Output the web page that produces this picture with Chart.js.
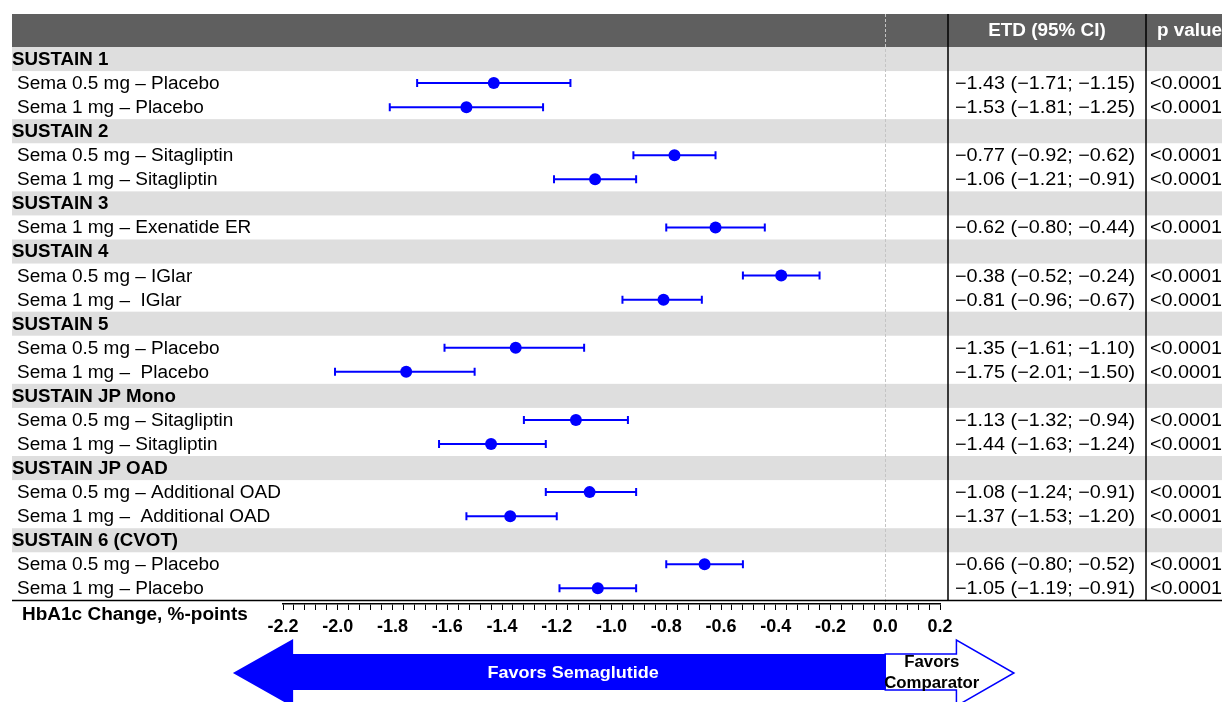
<!DOCTYPE html>
<html>
<head>
<meta charset="utf-8">
<script src="https://cdn.jsdelivr.net/npm/chart.js"></script>
<style>
  body { margin: 0; background: #fff; }
</style>
</head>
<body>
<canvas id="myChart" width="1222" height="702"></canvas>
<script>
// donnees du forest plot
/******************************************/
const groups = ['SUSTAIN 1', 'SUSTAIN 2', 'SUSTAIN 3', 'SUSTAIN 4', 'SUSTAIN 5',
  'SUSTAIN JP Mono', 'SUSTAIN JP OAD', 'SUSTAIN 6 (CVOT)'];
const comparisons = [
  'Sema 0.5 mg – Placebo', 'Sema 1 mg – Placebo',
  'Sema 0.5 mg – Sitagliptin', 'Sema 1 mg – Sitagliptin',
  'Sema 1 mg – Exenatide ER',
  'Sema 0.5 mg – IGlar', 'Sema 1 mg –  IGlar',
  'Sema 0.5 mg – Placebo', 'Sema 1 mg –  Placebo',
  'Sema 0.5 mg – Sitagliptin', 'Sema 1 mg – Sitagliptin',
  'Sema 0.5 mg – Additional OAD', 'Sema 1 mg –  Additional OAD',
  'Sema 0.5 mg – Placebo', 'Sema 1 mg – Placebo'];
const groupOf = [0, 0, 1, 1, 2, 3, 3, 4, 4, 5, 5, 6, 6, 7, 7];
const etd    = [-1.43, -1.53, -0.77, -1.06, -0.62, -0.38, -0.81, -1.35, -1.75, -1.13, -1.44, -1.08, -1.37, -0.66, -1.05];
const ciLow  = [-1.71, -1.81, -0.92, -1.21, -0.80, -0.52, -0.96, -1.61, -2.01, -1.32, -1.63, -1.24, -1.53, -0.80, -1.19];
const ciHigh = [-1.15, -1.25, -0.62, -0.91, -0.44, -0.24, -0.67, -1.10, -1.50, -0.94, -1.24, -0.91, -1.20, -0.52, -0.91];
const pValues = ['<0.0001', '<0.0001', '<0.0001', '<0.0001', '<0.0001', '<0.0001', '<0.0001', '<0.0001',
  '<0.0001', '<0.0001', '<0.0001', '<0.0001', '<0.0001', '<0.0001', '<0.0001'];
const tickLabels = ['-2.2', '-2.0', '-1.8', '-1.6', '-1.4', '-1.2', '-1.0', '-0.8', '-0.6', '-0.4', '-0.2', '0.0', '0.2'];
const axisTitle = 'HbA1c Change, %-points';
/******************************************/

// lignes du tableau : titre de groupe puis comparaisons
let rows = [];
let itemRow = [];
groups.forEach((g, gi) => {
  rows.push({ type: 'group', text: g });
  groupOf.forEach((k, i) => {
    if (k === gi) {
      itemRow[i] = rows.length;
      rows.push({ type: 'item', i: i });
    }
  });
});

let points = etd.map((v, i) => ({ x: v, y: itemRow[i] }));
const FONT = 'Liberation Sans, Arial, sans-serif';
const BLUE = '#0000ff';
const TABLE_BOTTOM = 600.5;

function fmt(v) {
  return v.toFixed(2).replace('-', '\u2212');
}

// texte un peu etire horizontalement comme dans l'original
function txt(ctx, s, x, y, font, color, align, sx) {
  ctx.save();
  ctx.font = font;
  ctx.fillStyle = color;
  ctx.textBaseline = 'middle';
  ctx.textAlign = align || 'left';
  ctx.translate(x, y);
  ctx.scale(sx || 1, 1);
  ctx.fillText(s, 0, 0);
  ctx.restore();
}

/******************************************/
const forestPlugin = {
  id: 'forest',
  beforeDraw(chart) {
    const ctx = chart.ctx;
    const x = chart.scales.x, y = chart.scales.y;
    const ca = chart.chartArea;
    ctx.save();
    ctx.fillStyle = '#fff';
    ctx.fillRect(0, 0, chart.width, chart.height);
    // bandes grises des groupes
    ctx.fillStyle = '#dedede';
    rows.forEach((r, k) => {
      if (r.type === 'group') {
        let t = y.getPixelForValue(k - 0.5), b = y.getPixelForValue(k + 0.5);
        ctx.fillRect(12, t, chart.width - 12, b - t);
      }
    });
    // entete
    ctx.fillStyle = '#5f5f5f';
    ctx.fillRect(12, 14, chart.width - 12, ca.top - 14);
    // ligne zero
    let x0 = Math.round(x.getPixelForValue(0)) + 0.5;
    ctx.strokeStyle = '#c4c4c4';
    ctx.lineWidth = 1;
    ctx.setLineDash([3, 2]);
    ctx.beginPath();
    ctx.moveTo(x0, 14);
    ctx.lineTo(x0, ca.bottom);
    ctx.stroke();
    ctx.restore();
  },
  beforeDatasetsDraw(chart) {
    const ctx = chart.ctx;
    const x = chart.scales.x, y = chart.scales.y;
    ctx.save();
    ctx.strokeStyle = BLUE;
    ctx.lineWidth = 2;
    etd.forEach((v, i) => {
      let py = y.getPixelForValue(itemRow[i]);
      let a = x.getPixelForValue(ciLow[i]), b = x.getPixelForValue(ciHigh[i]);
      ctx.beginPath();
      ctx.moveTo(a, py); ctx.lineTo(b, py);
      ctx.moveTo(a, py - 4); ctx.lineTo(a, py + 4);
      ctx.moveTo(b, py - 4); ctx.lineTo(b, py + 4);
      ctx.stroke();
    });
    ctx.restore();
  },
  afterDraw(chart) {
    const ctx = chart.ctx;
    const x = chart.scales.x, y = chart.scales.y;
    const W = chart.width;
    ctx.save();

    // colonnes du tableau
    ctx.strokeStyle = '#000';
    ctx.lineWidth = 1.5;
    ctx.beginPath();
    ctx.moveTo(948, 14); ctx.lineTo(948, TABLE_BOTTOM);
    ctx.moveTo(1146, 14); ctx.lineTo(1146, TABLE_BOTTOM);
    ctx.moveTo(12, TABLE_BOTTOM); ctx.lineTo(W, TABLE_BOTTOM);
    ctx.stroke();

    txt(ctx, 'ETD (95% CI)', 1047, 31, 'bold 18px ' + FONT, '#fff', 'center', 1.05);
    txt(ctx, 'p value', 1157, 31, 'bold 18px ' + FONT, '#fff', 'left', 1.05);

    rows.forEach((r, k) => {
      let py = y.getPixelForValue(k) + 1;
      if (r.type === 'group') {
        txt(ctx, r.text, 12, py, 'bold 18px ' + FONT, '#000', 'left', 1.04);
      } else {
        let i = r.i;
        txt(ctx, comparisons[i], 17, py, '18px ' + FONT, '#000', 'left', 1.055);
        txt(ctx, fmt(etd[i]) + ' (' + fmt(ciLow[i]) + '; ' + fmt(ciHigh[i]) + ')', 955, py, '18px ' + FONT, '#000', 'left', 1.1);
        txt(ctx, pValues[i], 1150, py, '18px ' + FONT, '#000', 'left', 1.1);
      }
    });

    txt(ctx, axisTitle, 22, 615, 'bold 18px ' + FONT, '#000', 'left', 1.055);

    // fleches en bas
    let x0 = x.getPixelForValue(0);
    let hb = x.getPixelForValue(-2.163), tip = x.getPixelForValue(-2.383);
    ctx.fillStyle = BLUE;
    ctx.beginPath();
    ctx.moveTo(tip, 673);
    ctx.lineTo(hb, 639);
    ctx.lineTo(hb, 654);
    ctx.lineTo(x0, 654);
    ctx.lineTo(x0, 690);
    ctx.lineTo(hb, 690);
    ctx.lineTo(hb, 707);
    ctx.closePath();
    ctx.fill();

    let hb2 = x.getPixelForValue(0.26), tip2 = x.getPixelForValue(0.47);
    ctx.fillStyle = '#fff';
    ctx.strokeStyle = BLUE;
    ctx.lineWidth = 1.5;
    ctx.beginPath();
    ctx.moveTo(x0, 654);
    ctx.lineTo(hb2, 654);
    ctx.lineTo(hb2, 640);
    ctx.lineTo(tip2, 673);
    ctx.lineTo(hb2, 706);
    ctx.lineTo(hb2, 690);
    ctx.lineTo(x0, 690);
    ctx.closePath();
    ctx.fill();
    ctx.stroke();

    txt(ctx, 'Favors Semaglutide', x.getPixelForValue(-1.14), 673, 'bold 17px ' + FONT, '#fff', 'center', 1.06);
    txt(ctx, 'Favors', x.getPixelForValue(0.17), 663, 'bold 16px ' + FONT, '#000', 'center', 1.05);
    txt(ctx, 'Comparator', x.getPixelForValue(0.17), 684, 'bold 16px ' + FONT, '#000', 'center', 1.05);
    ctx.restore();
  }
};
/******************************************/

var ctx = document.getElementById('myChart').getContext('2d');
var myChart = new Chart(ctx, {
  type: 'scatter',
  data: {
    datasets: [{
      data: points,
      pointRadius: 6,
      pointHoverRadius: 6,
      backgroundColor: BLUE,
      borderColor: BLUE,
      borderWidth: 0
    }]
  },
  options: {
    responsive: false,
    animation: false,
    events: [],
    layout: { padding: { left: 283, right: 282, top: 47, bottom: 53 } },
    plugins: { legend: { display: false }, tooltip: { enabled: false } },
    scales: {
      x: {
        type: 'linear',
        min: -2.2,
        max: 0.2,
        afterFit: s => { s.height = 45; },
        border: { display: true, color: '#000', width: 1.5 },
        grid: { display: true, drawOnChartArea: false, drawTicks: true, tickLength: 6, color: '#000', lineWidth: 1 },
        ticks: {
          stepSize: 0.04,
          autoSkip: false,
          maxRotation: 0,
          padding: 6,
          color: '#000',
          font: { family: FONT, size: 18, weight: 'bold' },
          callback: (v, i) => (i % 5 === 0 ? tickLabels[i / 5] : '')
        }
      },
      y: {
        type: 'linear',
        min: -0.5,
        // petit espace entre le bas du tableau et l'axe
        max: rows.length - 0.35,
        reverse: true,
        display: false
      }
    }
  },
  plugins: [forestPlugin]
});
</script>
</body>
</html>
